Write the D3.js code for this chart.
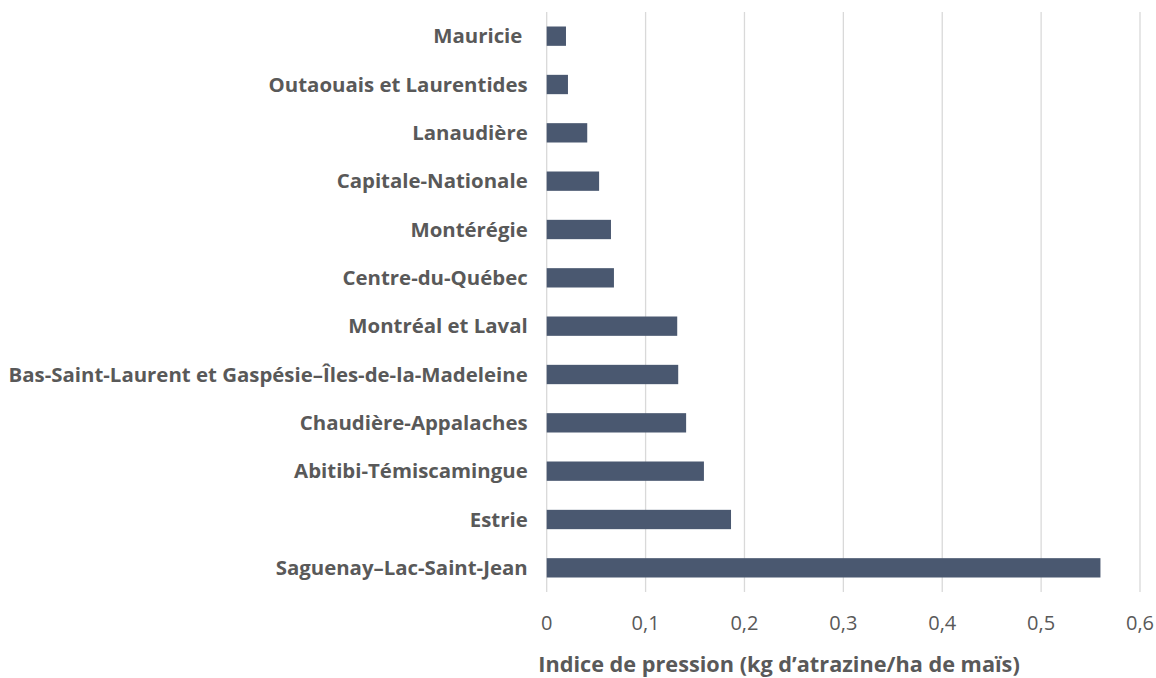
<!DOCTYPE html>
<html>
<head>
<meta charset="utf-8">
<script src="https://cdn.jsdelivr.net/npm/d3@7"></script>
<style>
  body { margin: 0; background: #fff; }
  .region-label { font-family: "Open Sans", sans-serif; font-weight: bold; font-size: 20.4px; fill: #595959; white-space: pre; }
  .tick-label { font-family: "Open Sans", sans-serif; font-size: 20px; fill: #595959; }
  .axis-title { font-family: "Open Sans", sans-serif; font-weight: bold; font-size: 21.7px; fill: #595959; }
</style>
</head>
<body>
<div id="chart"></div>
<script>
// Atrazine pressure index per region, horizontal bar chart

const width = 1156;
const height = 678;
const margin = { top: 12, right: 16, bottom: 86, left: 546.7 };

const regions = [
  "Mauricie ",
  "Outaouais et Laurentides",
  "Lanaudière",
  "Capitale-Nationale",
  "Montérégie",
  "Centre-du-Québec",
  "Montréal et Laval",
  "Bas-Saint-Laurent et Gaspésie–Îles-de-la-Madeleine",
  "Chaudière-Appalaches",
  "Abitibi-Témiscamingue",
  "Estrie",
  "Saguenay–Lac-Saint-Jean"
];
const pressure = [0.0195, 0.0215, 0.041, 0.053, 0.065, 0.068, 0.132, 0.133, 0.141, 0.159, 0.1864, 0.560];
const xTicks = [0, 0.1, 0.2, 0.3, 0.4, 0.5, 0.6];
const xTitle = "Indice de pression (kg d’atrazine/ha de maïs)";

const data = regions.map((r, i) => ({ region: r, value: pressure[i] }));

const chartWidth = 1140 - margin.left;
const chartHeight = 592 - margin.top;

const svg = d3.select("#chart")
  .append("svg")
  .attr("width", width)
  .attr("height", height);

const chart = svg.append("g")
  .attr("transform", `translate(${margin.left}, ${margin.top})`);

const xScale = d3.scaleLinear()
  .domain([0, 0.6])
  .range([0, chartWidth]);

const yScale = d3.scaleBand()
  .domain(regions)
  .range([0, chartHeight])
  .paddingInner(0.6)
  .paddingOuter(0.3);

// vertical gridlines
chart.append("g")
  .selectAll("line")
  .data(xTicks)
  .join("line")
  .attr("x1", d => xScale(d))
  .attr("x2", d => xScale(d))
  .attr("y1", 0)
  .attr("y2", chartHeight)
  .attr("stroke", "#d9d9d9")
  .attr("stroke-width", 1.3);

// tick labels
const fmt = d => d === 0 ? "0" : d3.format(".1f")(d).replace(".", ",");
chart.append("g")
  .selectAll("text")
  .data(xTicks)
  .join("text")
  .attr("class", "tick-label")
  .attr("x", d => xScale(d))
  .attr("y", chartHeight + 38)
  .attr("text-anchor", "middle")
  .text(fmt);

// bars
chart.selectAll(".bar")
  .data(data)
  .join("rect")
  .attr("class", "bar")
  .attr("x", xScale(0))
  .attr("y", d => yScale(d.region))
  .attr("width", d => xScale(d.value) - xScale(0))
  .attr("height", yScale.bandwidth())
  .attr("fill", "#4a5870");

// category labels
chart.selectAll(".region-label")
  .data(data)
  .join("text")
  .attr("class", "region-label")
  .attr("x", -19)
  .attr("y", d => yScale(d.region) + yScale.bandwidth() / 2)
  .attr("dy", "0.35em")
  .attr("text-anchor", "end")
  .text(d => d.region);

svg.append("text")
  .attr("class", "axis-title")
  .attr("x", 779)
  .attr("y", 672)
  .attr("text-anchor", "middle")
  .text(xTitle);
</script>
</body>
</html>
